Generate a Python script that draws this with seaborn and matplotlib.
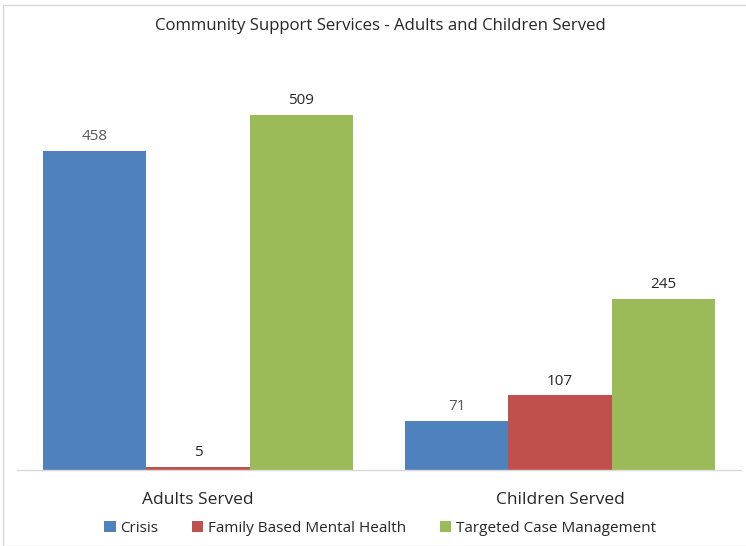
import matplotlib
matplotlib.use("Agg")
import matplotlib.pyplot as plt
import seaborn as sns
import pandas as pd
from matplotlib.patches import Rectangle

categories = ["Adults Served", "Children Served"]
series = ["Crisis", "Family Based Mental Health", "Targeted Case Management"]
crisis = [458, 71]
family = [5, 107]
targeted = [509, 245]
colors = ["#4F81BD", "#C0504D", "#9BBB59"]
label_colors = ["#595959", "#262626", "#262626"]

rows = []
for s, vals in zip(series, [crisis, family, targeted]):
    for c, v in zip(categories, vals):
        rows.append({"Category": c, "Series": s, "Value": v})
df = pd.DataFrame(rows)

sns.set_theme(style="white")
plt.rcParams["font.family"] = ["Open Sans", "DejaVu Sans"]

fig = plt.figure(figsize=(7.46, 5.46), dpi=100)
ax = fig.add_axes([17/746, 76/546, 724/746, 418/546])
sns.barplot(data=df, x="Category", y="Value", hue="Series", order=categories,
            hue_order=series, palette=colors, width=0.857, gap=0,
            saturation=1, ax=ax, legend=True, linewidth=0)

ax.set_ylim(0, 600)
ax.set_xlim(-0.5, 1.5)
for side in ["left", "right", "top"]:
    ax.spines[side].set_visible(False)
ax.spines["bottom"].set_color("#D9D9D9")
ax.spines["bottom"].set_linewidth(1)
ax.set_yticks([])
ax.set_xlabel("")
ax.set_ylabel("")
ax.tick_params(axis="x", length=0, pad=16, labelsize=12.5, colors="#262626")

for cont, lc in zip(ax.containers, label_colors):
    ax.bar_label(cont, padding=5, fontsize=11, color=lc)

leg = ax.legend(loc="center", ncol=3,
                frameon=False, fontsize=11.0, handlelength=0.75, handleheight=0.75,
                handletextpad=0.3, columnspacing=2.2)
leg.set_bbox_to_anchor((380/746, (546 - 528) / 546), transform=fig.transFigure)
for t in leg.get_texts():
    t.set_color("#262626")

fig.text(380/746, 1 - 26/546, "Community Support Services - Adults and Children Served",
         ha="center", va="center", fontsize=12.1, color="#262626")

fig.patches.append(Rectangle((3/746, 0), 760/746, 1 - 5/546, transform=fig.transFigure,
                             fill=False, edgecolor="#D9D9D9", linewidth=1))

fig.savefig("out.png", dpi=100)
